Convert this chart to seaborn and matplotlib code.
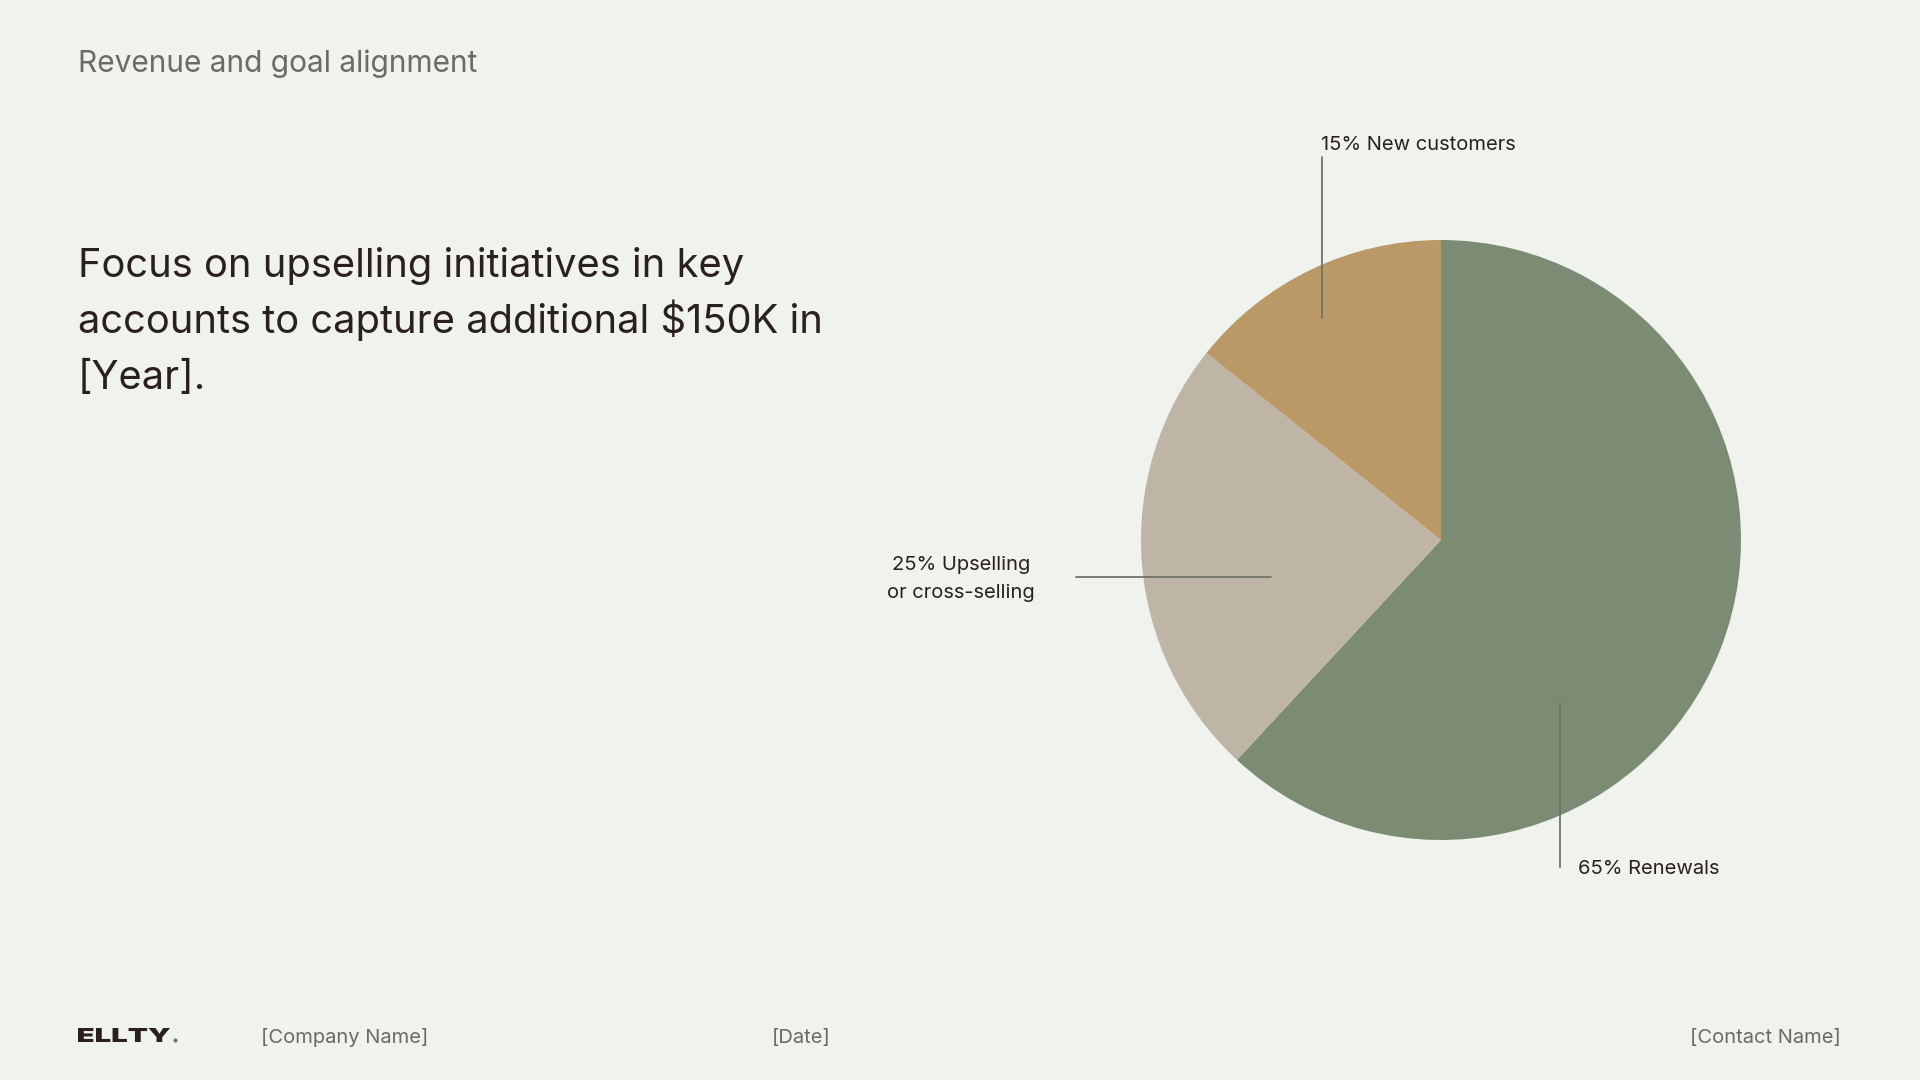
import matplotlib
matplotlib.use("Agg")
import matplotlib.pyplot as plt
import seaborn as sns
from matplotlib.textpath import TextPath
from matplotlib.patches import PathPatch, Circle
from matplotlib.font_manager import FontProperties
from matplotlib.transforms import Affine2D

# ---- data ----
categories = ["Renewals", "Upselling or cross-selling", "New customers"]
values = [65, 25, 15]
label_texts = ["65% Renewals", "25% Upselling\nor cross-selling", "15% New customers"]
colors = ["#7c8c72", "#bfb5a6", "#bb9966"]

title_text = "Revenue and goal alignment"
headline_lines = ["Focus on upselling initiatives in key",
                  "accounts to capture additional $150K in",
                  "[Year]."]
footer_logo = "ELLTY"
footer_company = "[Company Name]"
footer_date = "[Date]"
footer_contact = "[Contact Name]"

BG = "#f0f2ee"
DARK = "#2a201c"
GRAY = "#6b6b66"
LINE = "#6f7368"

sns.set_theme(style="white")
plt.rcParams["font.family"] = ["Inter", "DejaVu Sans"]

W, H = 1920, 1080
fig = plt.figure(figsize=(19.2, 10.8), dpi=100, facecolor=BG)

def fx(px):
    return px / W

def fy(py):
    return 1 - py / H

# title
fig.text(fx(78), fy(72), title_text, fontsize=21.5, color=GRAY, va="baseline", ha="left")

# headline
for i, line in enumerate(headline_lines):
    fig.text(fx(78), fy(277 + i * 56), line, fontsize=28.7, color=DARK,
             va="baseline", ha="left")

# pie axes: center (1441,540), radius 300
cx, cy, r = 1441, 540, 300
ax = fig.add_axes([fx(cx - r), fy(cy + r), 2 * r / W, 2 * r / H])
ax.set_facecolor(BG)
ax.pie(values, colors=colors, startangle=90, counterclock=False, radius=1,
       wedgeprops=dict(linewidth=0))
ax.set_xlim(-1, 1)
ax.set_ylim(-1, 1)
ax.set_aspect("equal")
ax.axis("off")

def dx(px):
    return (px - cx) / r

def dy(py):
    return (cy - py) / r

# leader lines
ax.plot([dx(1322), dx(1322)], [dy(157), dy(318)], color=LINE, lw=1.3, clip_on=False)
ax.plot([dx(1076), dx(1271)], [dy(577), dy(577)], color=LINE, lw=1.3, clip_on=False)
ax.plot([dx(1560), dx(1560)], [dy(703), dy(867)], color=LINE, lw=1.3, clip_on=False)

# labels
FS = 14.5
ax.text(dx(1578), dy(869.5), label_texts[0], fontsize=FS, color=DARK, ha="left", va="center")
up1, up2 = label_texts[1].split("\n")
ax.text(dx(961), dy(564.5), up1, fontsize=FS, color=DARK, ha="center", va="center")
ax.text(dx(961), dy(592.5), up2, fontsize=FS, color=DARK, ha="center", va="center")
ax.text(dx(1321), dy(145.5), label_texts[2], fontsize=FS, color=DARK, ha="left", va="center")

# footer logo as stretched text path
tp = TextPath((0, 0), footer_logo, size=20,
              prop=FontProperties(family="Inter", weight="black"))
bb = tp.get_extents()
sx = 92 / bb.width
sy = 14 / bb.height
tr = Affine2D().translate(-bb.x0, -bb.y0).scale(sx, sy).translate(78, H - 1042)
logo = PathPatch(tp, transform=tr, facecolor=DARK, edgecolor="none")
fig.add_artist(logo)
dot = Circle((175.5, H - 1040.5), 2.0, transform=Affine2D(), facecolor=GRAY, edgecolor="none")
fig.add_artist(dot)

fig.text(fx(261), fy(1037.5), footer_company, fontsize=14.5, color=GRAY, va="center", ha="left")
fig.text(fx(801), fy(1037.5), footer_date, fontsize=14.5, color=GRAY, va="center", ha="center")
fig.text(fx(1841), fy(1037.5), footer_contact, fontsize=14.5, color=GRAY, va="center", ha="right")

fig.savefig("out.png", dpi=100, facecolor=BG)
